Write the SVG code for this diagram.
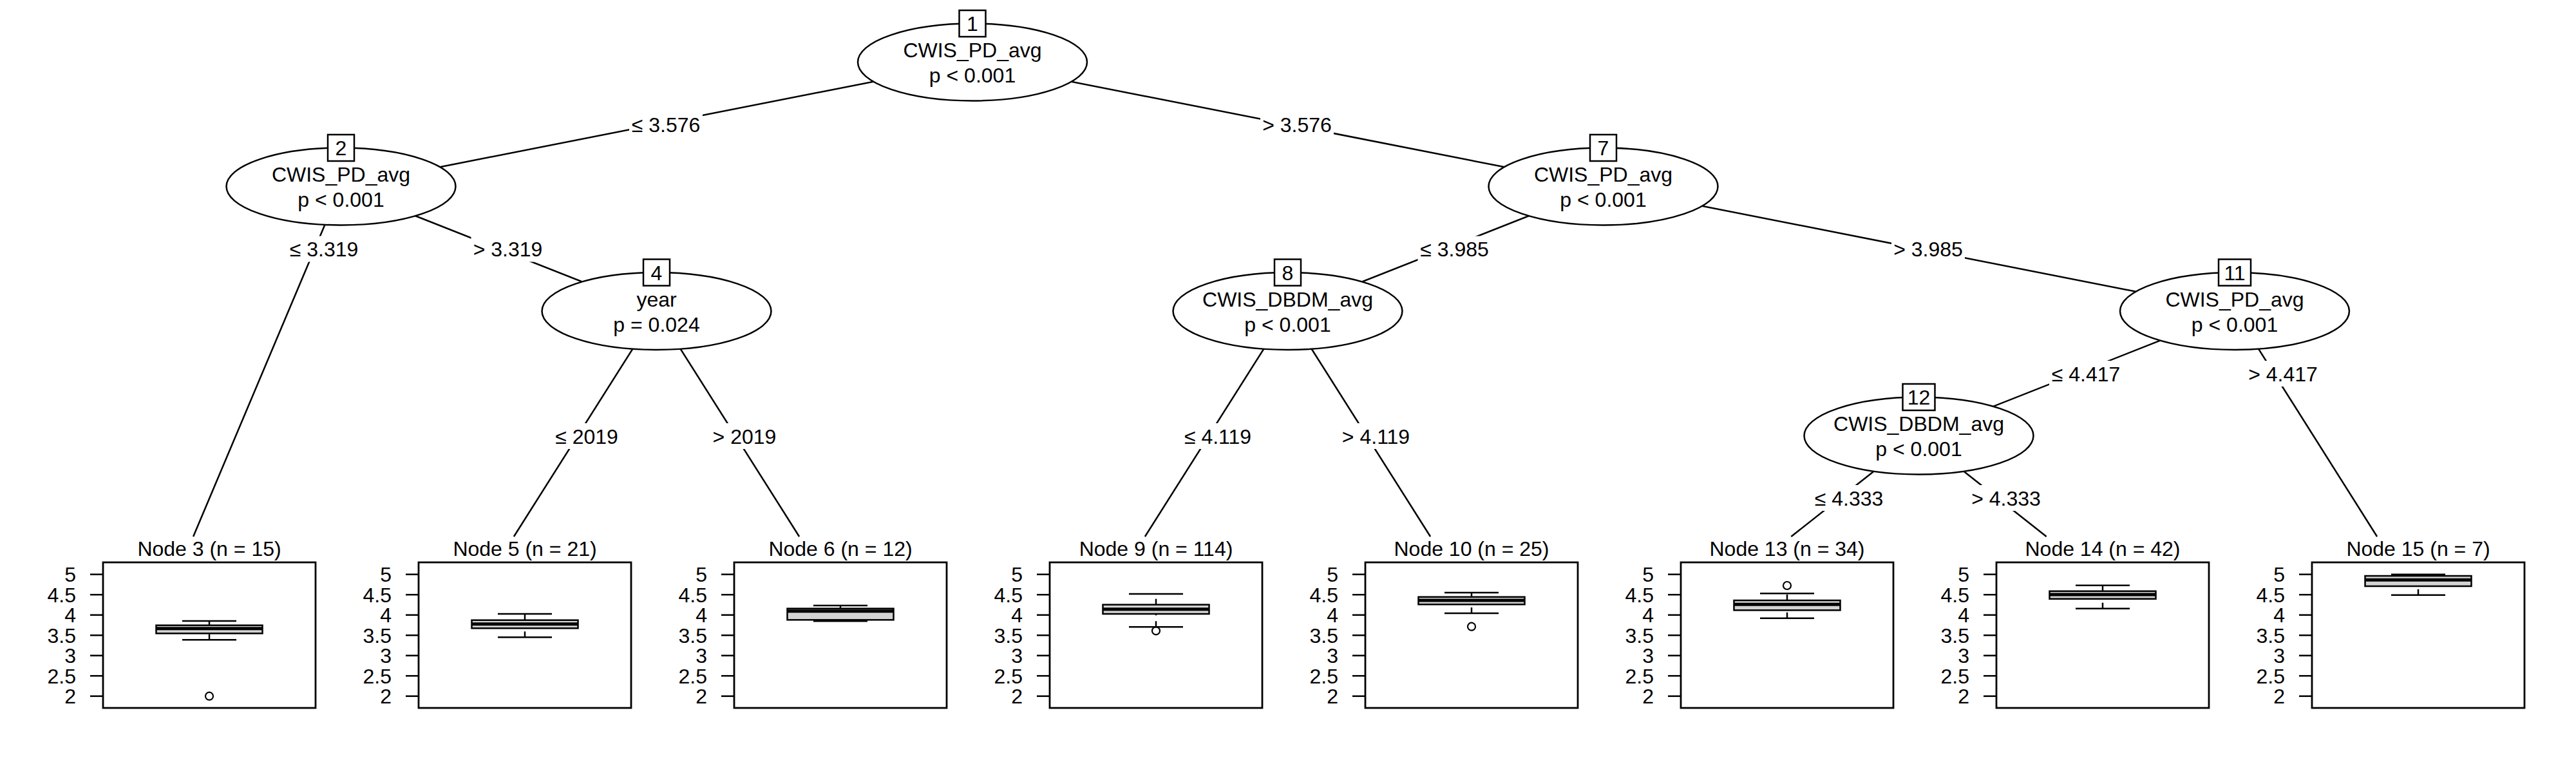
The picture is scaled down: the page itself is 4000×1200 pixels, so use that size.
<svg xmlns="http://www.w3.org/2000/svg" width="4000" height="1200" viewBox="0 0 4000 1200">
<style>
text{font-family:"Liberation Sans",Arial,Helvetica,sans-serif;font-size:32px;fill:#000;text-anchor:middle}
.ax{text-anchor:end}
.ell{fill:#fff;stroke:#000;stroke-width:2.5}
.num{fill:#fff;stroke:#000;stroke-width:2.5}
.edge{stroke:#000;stroke-width:2.5;fill:none}
.lblbg{fill:#fff;stroke:none}
.panel{fill:none;stroke:#000;stroke-width:2.8}
.tick{stroke:#000;stroke-width:2.5}
.box{fill:#d3d3d3;stroke:#000;stroke-width:2.5}
.wh{stroke:#000;stroke-width:2.5}
.whd{stroke:#000;stroke-width:2.5;stroke-dasharray:9 9}
.med{stroke:#000;stroke-width:5}
.out{fill:none;stroke:#000;stroke-width:2.2}
</style>
<defs>
<g id="axis">
<line class="tick" x1="-20" y1="891.7" x2="0" y2="891.7"/>
<line class="tick" x1="-20" y1="923.2" x2="0" y2="923.2"/>
<line class="tick" x1="-20" y1="954.7" x2="0" y2="954.7"/>
<line class="tick" x1="-20" y1="986.2" x2="0" y2="986.2"/>
<line class="tick" x1="-20" y1="1017.7" x2="0" y2="1017.7"/>
<line class="tick" x1="-20" y1="1049.2" x2="0" y2="1049.2"/>
<line class="tick" x1="-20" y1="1080.7" x2="0" y2="1080.7"/>
<text class="ax" x="-42" y="903">5</text>
<text class="ax" x="-42" y="934.5">4.5</text>
<text class="ax" x="-42" y="966">4</text>
<text class="ax" x="-42" y="997.5">3.5</text>
<text class="ax" x="-42" y="1029">3</text>
<text class="ax" x="-42" y="1060.5">2.5</text>
<text class="ax" x="-42" y="1092">2</text>
<rect class="panel" x="0" y="873" width="330" height="226"/>
</g>
</defs>

<g id="edges">
<line class="edge" x1="1510" y1="96.5" x2="529.5" y2="289.5"/>
<line class="edge" x1="1510" y1="96.5" x2="2489.5" y2="289.5"/>
<line class="edge" x1="529.5" y1="289.5" x2="300.1" y2="833"/>
<line class="edge" x1="529.5" y1="289.5" x2="1019.5" y2="483"/>
<line class="edge" x1="1019.5" y1="483" x2="797.9" y2="833"/>
<line class="edge" x1="1019.5" y1="483" x2="1241.1" y2="833"/>
<line class="edge" x1="2489.5" y1="289.5" x2="1999.5" y2="483"/>
<line class="edge" x1="2489.5" y1="289.5" x2="3470" y2="483"/>
<line class="edge" x1="1999.5" y1="483" x2="1777.9" y2="833"/>
<line class="edge" x1="1999.5" y1="483" x2="2221.1" y2="833"/>
<line class="edge" x1="3470" y1="483" x2="2979.5" y2="676.5"/>
<line class="edge" x1="3470" y1="483" x2="3691.1" y2="833"/>
<line class="edge" x1="2979.5" y1="676.5" x2="2781.3" y2="833"/>
<line class="edge" x1="2979.5" y1="676.5" x2="3177.7" y2="833"/>
<rect class="lblbg" x="977" y="173" width="114" height="40"/><text x="1034" y="204.5">≤ 3.576</text>
<rect class="lblbg" x="1957" y="173" width="114" height="40"/><text x="2014" y="204.5">&gt; 3.576</text>
<rect class="lblbg" x="446" y="366.5" width="114" height="40"/><text x="503" y="398">≤ 3.319</text>
<rect class="lblbg" x="731.5" y="366.5" width="114" height="40"/><text x="788.5" y="398">&gt; 3.319</text>
<rect class="lblbg" x="2201.5" y="366.5" width="114" height="40"/><text x="2258.5" y="398">≤ 3.985</text>
<rect class="lblbg" x="2937" y="366.5" width="114" height="40"/><text x="2994" y="398">&gt; 3.985</text>
<rect class="lblbg" x="3182" y="560" width="114" height="40"/><text x="3239" y="591.5">≤ 4.417</text>
<rect class="lblbg" x="3488" y="560" width="114" height="40"/><text x="3545" y="591.5">&gt; 4.417</text>
<rect class="lblbg" x="859" y="657" width="104" height="40"/><text x="911" y="688.5">≤ 2019</text>
<rect class="lblbg" x="1104" y="657" width="104" height="40"/><text x="1156" y="688.5">&gt; 2019</text>
<rect class="lblbg" x="1834" y="657" width="114" height="40"/><text x="1891" y="688.5">≤ 4.119</text>
<rect class="lblbg" x="2079.5" y="657" width="114" height="40"/><text x="2136.5" y="688.5">&gt; 4.119</text>
<rect class="lblbg" x="2814" y="753" width="114" height="40"/><text x="2871" y="784.5">≤ 4.333</text>
<rect class="lblbg" x="3058" y="753" width="114" height="40"/><text x="3115" y="784.5">&gt; 4.333</text>
</g>

<g id="node1">
<ellipse class="ell" cx="1510" cy="96.5" rx="178" ry="60"/>
<rect class="num" x="1489.5" y="16" width="41" height="41"/>
<text x="1510" y="48">1</text>
<text x="1510" y="89">CWIS_PD_avg</text>
<text x="1510" y="128">p &lt; 0.001</text>
</g>
<g id="node2">
<ellipse class="ell" cx="529.5" cy="289.5" rx="178" ry="60"/>
<rect class="num" x="509" y="209" width="41" height="41"/>
<text x="529.5" y="241">2</text>
<text x="529.5" y="282">CWIS_PD_avg</text>
<text x="529.5" y="321">p &lt; 0.001</text>
</g>
<g id="node4">
<ellipse class="ell" cx="1019.5" cy="483" rx="178" ry="60"/>
<rect class="num" x="999" y="402.5" width="41" height="41"/>
<text x="1019.5" y="434.5">4</text>
<text x="1019.5" y="475.5">year</text>
<text x="1019.5" y="514.5">p = 0.024</text>
</g>
<g id="node7">
<ellipse class="ell" cx="2489.5" cy="289.5" rx="178" ry="60"/>
<rect class="num" x="2469" y="209" width="41" height="41"/>
<text x="2489.5" y="241">7</text>
<text x="2489.5" y="282">CWIS_PD_avg</text>
<text x="2489.5" y="321">p &lt; 0.001</text>
</g>
<g id="node8">
<ellipse class="ell" cx="1999.5" cy="483" rx="178" ry="60"/>
<rect class="num" x="1979" y="402.5" width="41" height="41"/>
<text x="1999.5" y="434.5">8</text>
<text x="1999.5" y="475.5">CWIS_DBDM_avg</text>
<text x="1999.5" y="514.5">p &lt; 0.001</text>
</g>
<g id="node11">
<ellipse class="ell" cx="3470" cy="483" rx="178" ry="60"/>
<rect class="num" x="3445" y="402.5" width="50" height="41"/>
<text x="3470" y="434.5">11</text>
<text x="3470" y="475.5">CWIS_PD_avg</text>
<text x="3470" y="514.5">p &lt; 0.001</text>
</g>
<g id="node12">
<ellipse class="ell" cx="2979.5" cy="676.5" rx="178" ry="60"/>
<rect class="num" x="2954.5" y="596" width="50" height="41"/>
<text x="2979.5" y="628">12</text>
<text x="2979.5" y="669">CWIS_DBDM_avg</text>
<text x="2979.5" y="708">p &lt; 0.001</text>
</g>

<g id="node3">
<text x="325" y="863">Node 3 (n = 15)</text>
<use href="#axis" x="160"/>
<line class="wh" x1="283" y1="964" x2="367" y2="964"/>
<line class="whd" x1="325" y1="970.7" x2="325" y2="964"/>
<rect class="box" x="242.5" y="970.7" width="165" height="12.6"/>
<line class="whd" x1="325" y1="993.3" x2="325" y2="983.3"/>
<line class="wh" x1="283" y1="993.3" x2="367" y2="993.3"/>
<line class="med" x1="242.5" y1="975.7" x2="407.5" y2="975.7"/>
<circle class="out" cx="325" cy="1080.7" r="6"/>
</g>
<g id="node5">
<text x="815" y="863">Node 5 (n = 21)</text>
<use href="#axis" x="650"/>
<line class="wh" x1="773" y1="953" x2="857" y2="953"/>
<line class="whd" x1="815" y1="962.7" x2="815" y2="953"/>
<rect class="box" x="732.5" y="962.7" width="165" height="12.6"/>
<line class="whd" x1="815" y1="989.3" x2="815" y2="975.3"/>
<line class="wh" x1="773" y1="989.3" x2="857" y2="989.3"/>
<line class="med" x1="732.5" y1="968.7" x2="897.5" y2="968.7"/>
</g>
<g id="node6">
<text x="1305" y="863">Node 6 (n = 12)</text>
<use href="#axis" x="1140"/>
<line class="wh" x1="1263" y1="940" x2="1347" y2="940"/>
<line class="whd" x1="1305" y1="944.7" x2="1305" y2="940"/>
<rect class="box" x="1222.5" y="944.7" width="165" height="17.6"/>
<line class="whd" x1="1305" y1="964.3" x2="1305" y2="962.3"/>
<line class="wh" x1="1263" y1="964.3" x2="1347" y2="964.3"/>
<line class="med" x1="1222.5" y1="948.7" x2="1387.5" y2="948.7"/>
</g>
<g id="node9">
<text x="1795" y="863">Node 9 (n = 114)</text>
<use href="#axis" x="1630"/>
<line class="wh" x1="1753" y1="922" x2="1837" y2="922"/>
<line class="whd" x1="1795" y1="938.7" x2="1795" y2="922"/>
<rect class="box" x="1712.5" y="938.7" width="165" height="14.3"/>
<line class="whd" x1="1795" y1="973.3" x2="1795" y2="953"/>
<line class="wh" x1="1753" y1="973.3" x2="1837" y2="973.3"/>
<line class="med" x1="1712.5" y1="945.7" x2="1877.5" y2="945.7"/>
<circle class="out" cx="1795" cy="979.3" r="6"/>
</g>
<g id="node10">
<text x="2285" y="863">Node 10 (n = 25)</text>
<use href="#axis" x="2120"/>
<line class="wh" x1="2243" y1="920" x2="2327" y2="920"/>
<line class="whd" x1="2285" y1="926.7" x2="2285" y2="920"/>
<rect class="box" x="2202.5" y="926.7" width="165" height="11.6"/>
<line class="whd" x1="2285" y1="952" x2="2285" y2="938.3"/>
<line class="wh" x1="2243" y1="952" x2="2327" y2="952"/>
<line class="med" x1="2202.5" y1="932" x2="2367.5" y2="932"/>
<circle class="out" cx="2285" cy="972.7" r="6"/>
</g>
<g id="node13">
<text x="2775" y="863">Node 13 (n = 34)</text>
<use href="#axis" x="2610"/>
<line class="wh" x1="2733" y1="921.3" x2="2817" y2="921.3"/>
<line class="whd" x1="2775" y1="932" x2="2775" y2="921.3"/>
<rect class="box" x="2692.5" y="932" width="165" height="15.3"/>
<line class="whd" x1="2775" y1="959.7" x2="2775" y2="947.3"/>
<line class="wh" x1="2733" y1="959.7" x2="2817" y2="959.7"/>
<line class="med" x1="2692.5" y1="938.3" x2="2857.5" y2="938.3"/>
<circle class="out" cx="2775" cy="909" r="6"/>
</g>
<g id="node14">
<text x="3265" y="863">Node 14 (n = 42)</text>
<use href="#axis" x="3100"/>
<line class="wh" x1="3223" y1="908.7" x2="3307" y2="908.7"/>
<line class="whd" x1="3265" y1="917.7" x2="3265" y2="908.7"/>
<rect class="box" x="3182.5" y="917.7" width="165" height="12"/>
<line class="whd" x1="3265" y1="944.7" x2="3265" y2="929.7"/>
<line class="wh" x1="3223" y1="944.7" x2="3307" y2="944.7"/>
<line class="med" x1="3182.5" y1="923" x2="3347.5" y2="923"/>
</g>
<g id="node15">
<text x="3755" y="863">Node 15 (n = 7)</text>
<use href="#axis" x="3590"/>
<line class="wh" x1="3713" y1="891.7" x2="3797" y2="891.7"/>
<line class="whd" x1="3755" y1="894" x2="3755" y2="891.7"/>
<rect class="box" x="3672.5" y="894" width="165" height="16"/>
<line class="whd" x1="3755" y1="923.7" x2="3755" y2="910"/>
<line class="wh" x1="3713" y1="923.7" x2="3797" y2="923.7"/>
<line class="med" x1="3672.5" y1="900.3" x2="3837.5" y2="900.3"/>
</g>
</svg>
